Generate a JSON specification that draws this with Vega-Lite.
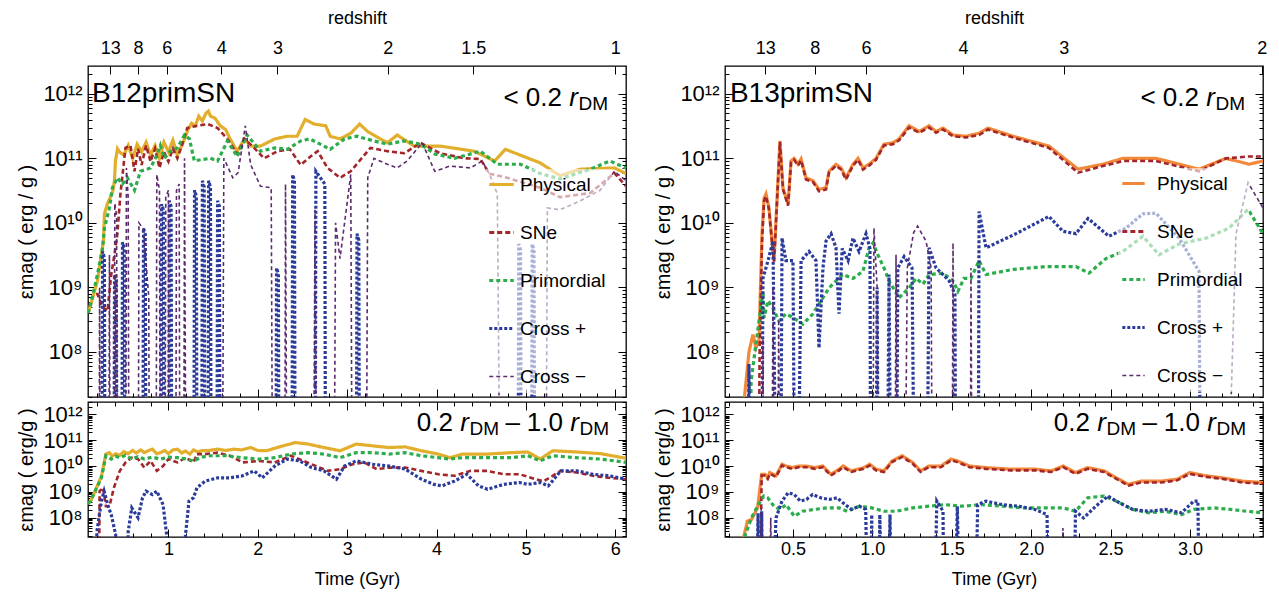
{
"$schema": "https://vega.github.io/schema/vega-lite/v6.json",
"background": "white",
"padding": {"left": 15, "top": 8, "right": 2, "bottom": 2},
"config": {
  "view": {"stroke": "black", "strokeWidth": 1.3},
  "font": "Liberation Sans",
  "axis": {"domain": false, "grid": false, "tickColor": "black", "tickWidth": 1, "labelColor": "black", "titleColor": "black", "labelFont": "Liberation Sans", "titleFont": "Liberation Sans", "titleFontWeight": "normal", "labelFontSize": 18, "titleFontSize": 18, "labelOverlap": false, "labelBound": false, "labelFlush": false},
  "text": {"font": "Liberation Sans", "color": "black"}
},
"datasets": {
"lt": [
{"s":"Physical","t":0.1,"v":4.0e8},{"s":"Physical","t":0.116,"v":4.6e8},{"s":"Physical","t":0.206,"v":1.26e9},{"s":"Physical","t":0.25,"v":3.2e9},{"s":"Physical","t":0.273,"v":5.2e9},{"s":"Physical","t":0.284,"v":1.38e10},{"s":"Physical","t":0.318,"v":2.0e10},{"s":"Physical","t":0.351,"v":2.5e10},{"s":"Physical","t":0.38,"v":3.2e10},{"s":"Physical","t":0.396,"v":4.5e10},{"s":"Physical","t":0.407,"v":9.1e10},{"s":"Physical","t":0.43,"v":1.41e11},{"s":"Physical","t":0.452,"v":1.26e11},{"s":"Physical","t":0.5,"v":1.12e11},{"s":"Physical","t":0.55,"v":1.58e11},{"s":"Physical","t":0.6,"v":1.0e11},{"s":"Physical","t":0.65,"v":1.66e11},{"s":"Physical","t":0.7,"v":1.26e11},{"s":"Physical","t":0.75,"v":1.78e11},{"s":"Physical","t":0.8,"v":1.12e11},{"s":"Physical","t":0.85,"v":1.58e11},{"s":"Physical","t":0.9,"v":1.0e11},{"s":"Physical","t":0.95,"v":1.78e11},{"s":"Physical","t":1.0,"v":1.26e11},{"s":"Physical","t":1.05,"v":1.91e11},{"s":"Physical","t":1.1,"v":1.12e11},{"s":"Physical","t":1.15,"v":1.58e11},{"s":"Physical","t":1.18,"v":2.0e11},{"s":"Physical","t":1.22,"v":2.8e11},{"s":"Physical","t":1.26,"v":3.5e11},{"s":"Physical","t":1.3,"v":3.2e11},{"s":"Physical","t":1.34,"v":4.5e11},{"s":"Physical","t":1.38,"v":3.8e11},{"s":"Physical","t":1.42,"v":5.0e11},{"s":"Physical","t":1.447,"v":5.4e11},{"s":"Physical","t":1.47,"v":4.5e11},{"s":"Physical","t":1.52,"v":4.2e11},{"s":"Physical","t":1.58,"v":3.2e11},{"s":"Physical","t":1.64,"v":2.8e11},{"s":"Physical","t":1.69,"v":2.0e11},{"s":"Physical","t":1.77,"v":1.29e11},{"s":"Physical","t":1.85,"v":2.0e11},{"s":"Physical","t":1.92,"v":1.55e11},{"s":"Physical","t":2.03,"v":1.55e11},{"s":"Physical","t":2.19,"v":2.0e11},{"s":"Physical","t":2.33,"v":2.2e11},{"s":"Physical","t":2.44,"v":2.2e11},{"s":"Physical","t":2.53,"v":4.0e11},{"s":"Physical","t":2.63,"v":3.4e11},{"s":"Physical","t":2.76,"v":3.2e11},{"s":"Physical","t":2.81,"v":2.2e11},{"s":"Physical","t":2.92,"v":2.0e11},{"s":"Physical","t":3.04,"v":2.45e11},{"s":"Physical","t":3.14,"v":3.4e11},{"s":"Physical","t":3.23,"v":2.6e11},{"s":"Physical","t":3.45,"v":1.74e11},{"s":"Physical","t":3.56,"v":2.3e11},{"s":"Physical","t":3.75,"v":1.55e11},{"s":"Physical","t":4.04,"v":1.55e11},{"s":"Physical","t":4.42,"v":1.29e11},{"s":"Physical","t":4.65,"v":9.1e10},{"s":"Physical","t":4.77,"v":1.38e11},{"s":"Physical","t":5.16,"v":8.5e10},{"s":"Physical","t":5.38,"v":5.4e10},{"s":"Physical","t":5.61,"v":6.8e10},{"s":"Physical","t":5.99,"v":7.1e10},{"s":"Physical","t":6.12,"v":5.8e10},
{"s":"SNe","t":0.19,"v":7.9e8},{"s":"SNe","t":0.206,"v":7.9e8},{"s":"SNe","t":0.26,"v":5.0e8},{"s":"SNe","t":0.318,"v":4.3e8},{"s":"SNe","t":0.36,"v":1.58e9},{"s":"SNe","t":0.396,"v":3.2e9},{"s":"SNe","t":0.429,"v":6.8e9},{"s":"SNe","t":0.463,"v":2.8e10},{"s":"SNe","t":0.519,"v":1.45e11},{"s":"SNe","t":0.575,"v":1.58e11},{"s":"SNe","t":0.62,"v":6.3e10},{"s":"SNe","t":0.66,"v":1.41e11},{"s":"SNe","t":0.7,"v":7.9e10},{"s":"SNe","t":0.75,"v":1.58e11},{"s":"SNe","t":0.8,"v":8.9e10},{"s":"SNe","t":0.85,"v":1.41e11},{"s":"SNe","t":0.9,"v":7.1e10},{"s":"SNe","t":0.95,"v":1.26e11},{"s":"SNe","t":1.0,"v":8.9e10},{"s":"SNe","t":1.05,"v":1.41e11},{"s":"SNe","t":1.1,"v":1.0e11},{"s":"SNe","t":1.15,"v":1.58e11},{"s":"SNe","t":1.21,"v":2.95e11},{"s":"SNe","t":1.32,"v":3.2e11},{"s":"SNe","t":1.44,"v":3.4e11},{"s":"SNe","t":1.55,"v":2.95e11},{"s":"SNe","t":1.66,"v":2.0e11},{"s":"SNe","t":1.77,"v":1.17e11},{"s":"SNe","t":1.85,"v":2.0e11},{"s":"SNe","t":1.96,"v":1.45e11},{"s":"SNe","t":2.07,"v":1.0e11},{"s":"SNe","t":2.22,"v":1.29e11},{"s":"SNe","t":2.36,"v":1.38e11},{"s":"SNe","t":2.48,"v":7.9e10},{"s":"SNe","t":2.59,"v":1.07e11},{"s":"SNe","t":2.67,"v":1.29e11},{"s":"SNe","t":2.78,"v":7.1e10},{"s":"SNe","t":2.92,"v":5.0e10},{"s":"SNe","t":3.04,"v":6.3e10},{"s":"SNe","t":3.26,"v":1.45e11},{"s":"SNe","t":3.45,"v":1.29e11},{"s":"SNe","t":3.64,"v":1.2e11},{"s":"SNe","t":3.82,"v":1.74e11},{"s":"SNe","t":4.04,"v":1.2e11},{"s":"SNe","t":4.31,"v":1.0e11},{"s":"SNe","t":4.49,"v":9.8e10},{"s":"SNe","t":4.59,"v":5.8e10},{"s":"SNe","t":4.79,"v":5.0e10},{"s":"SNe","t":5.16,"v":3.5e10},{"s":"SNe","t":5.38,"v":2.5e10},{"s":"SNe","t":5.72,"v":2.9e10},{"s":"SNe","t":5.99,"v":5.9e10},{"s":"SNe","t":6.12,"v":3.7e10},
{"s":"Primordial","t":0.1,"v":4.0e8},{"s":"Primordial","t":0.116,"v":4.6e8},{"s":"Primordial","t":0.206,"v":1.58e9},{"s":"Primordial","t":0.262,"v":4.0e9},{"s":"Primordial","t":0.284,"v":8.3e9},{"s":"Primordial","t":0.34,"v":1.7e10},{"s":"Primordial","t":0.373,"v":3.5e10},{"s":"Primordial","t":0.429,"v":5.0e10},{"s":"Primordial","t":0.485,"v":4.0e10},{"s":"Primordial","t":0.541,"v":5.0e10},{"s":"Primordial","t":0.62,"v":3.2e10},{"s":"Primordial","t":0.687,"v":6.3e10},{"s":"Primordial","t":0.8,"v":7.1e10},{"s":"Primordial","t":0.877,"v":1.17e11},{"s":"Primordial","t":0.91,"v":1.58e11},{"s":"Primordial","t":0.955,"v":1.0e11},{"s":"Primordial","t":1.02,"v":1.29e11},{"s":"Primordial","t":1.1,"v":1.45e11},{"s":"Primordial","t":1.18,"v":2.3e11},{"s":"Primordial","t":1.235,"v":2.0e11},{"s":"Primordial","t":1.29,"v":9.1e10},{"s":"Primordial","t":1.36,"v":9.5e10},{"s":"Primordial","t":1.47,"v":1.0e11},{"s":"Primordial","t":1.55,"v":9.1e10},{"s":"Primordial","t":1.66,"v":1.86e11},{"s":"Primordial","t":1.77,"v":1.07e11},{"s":"Primordial","t":1.88,"v":2.3e11},{"s":"Primordial","t":2.03,"v":1.29e11},{"s":"Primordial","t":2.19,"v":1.45e11},{"s":"Primordial","t":2.33,"v":1.38e11},{"s":"Primordial","t":2.48,"v":1.86e11},{"s":"Primordial","t":2.58,"v":2.0e11},{"s":"Primordial","t":2.67,"v":1.74e11},{"s":"Primordial","t":2.81,"v":1.38e11},{"s":"Primordial","t":2.97,"v":2.0e11},{"s":"Primordial","t":3.11,"v":2.2e11},{"s":"Primordial","t":3.3,"v":1.86e11},{"s":"Primordial","t":3.45,"v":1.66e11},{"s":"Primordial","t":3.64,"v":1.86e11},{"s":"Primordial","t":3.82,"v":1.66e11},{"s":"Primordial","t":3.98,"v":1.17e11},{"s":"Primordial","t":4.2,"v":1.0e11},{"s":"Primordial","t":4.49,"v":1.29e11},{"s":"Primordial","t":4.68,"v":8.1e10},{"s":"Primordial","t":4.94,"v":8.1e10},{"s":"Primordial","t":5.16,"v":5.8e10},{"s":"Primordial","t":5.38,"v":4.8e10},{"s":"Primordial","t":5.72,"v":6.8e10},{"s":"Primordial","t":5.94,"v":9.1e10},{"s":"Primordial","t":6.12,"v":7.1e10},
{"s":"Cross +","t":0.1,"v":1e4},{"s":"Cross +","t":0.253,"v":1e4},{"s":"Cross +","t":0.263,"v":3.6e9},{"s":"Cross +","t":0.283,"v":2.9e9},{"s":"Cross +","t":0.293,"v":1e4},{"s":"Cross +","t":0.387,"v":1e4},{"s":"Cross +","t":0.397,"v":1.58e9},{"s":"Cross +","t":0.417,"v":1.3e9},{"s":"Cross +","t":0.427,"v":1e4},{"s":"Cross +","t":0.476,"v":1e4},{"s":"Cross +","t":0.486,"v":5.0e9},{"s":"Cross +","t":0.506,"v":4.0e9},{"s":"Cross +","t":0.516,"v":1e4},{"s":"Cross +","t":0.711,"v":1e4},{"s":"Cross +","t":0.721,"v":8.3e9},{"s":"Cross +","t":0.741,"v":6.6e9},{"s":"Cross +","t":0.751,"v":1e4},{"s":"Cross +","t":0.913,"v":1e4},{"s":"Cross +","t":0.923,"v":1.95e10},{"s":"Cross +","t":0.943,"v":1.6e10},{"s":"Cross +","t":0.953,"v":1e4},{"s":"Cross +","t":1.0,"v":1e4},{"s":"Cross +","t":1.01,"v":2.2e10},{"s":"Cross +","t":1.03,"v":1.8e10},{"s":"Cross +","t":1.04,"v":1e4},{"s":"Cross +","t":1.282,"v":1e4},{"s":"Cross +","t":1.292,"v":3.2e10},{"s":"Cross +","t":1.312,"v":2.6e10},{"s":"Cross +","t":1.322,"v":1e4},{"s":"Cross +","t":1.37,"v":1e4},{"s":"Cross +","t":1.38,"v":4.5e10},{"s":"Cross +","t":1.40,"v":3.6e10},{"s":"Cross +","t":1.41,"v":1e4},{"s":"Cross +","t":1.44,"v":1e4},{"s":"Cross +","t":1.45,"v":4.5e10},{"s":"Cross +","t":1.47,"v":3.6e10},{"s":"Cross +","t":1.48,"v":1e4},{"s":"Cross +","t":1.54,"v":1e4},{"s":"Cross +","t":1.55,"v":2.2e10},{"s":"Cross +","t":1.57,"v":1.8e10},{"s":"Cross +","t":1.58,"v":1e4},{"s":"Cross +","t":2.20,"v":1e4},{"s":"Cross +","t":2.21,"v":2.0e9},{"s":"Cross +","t":2.23,"v":1.6e9},{"s":"Cross +","t":2.24,"v":1e4},{"s":"Cross +","t":2.38,"v":1e4},{"s":"Cross +","t":2.39,"v":5.6e10},{"s":"Cross +","t":2.41,"v":4.5e10},{"s":"Cross +","t":2.42,"v":1e4},{"s":"Cross +","t":2.64,"v":1e4},{"s":"Cross +","t":2.65,"v":6.3e10},{"s":"Cross +","t":2.70,"v":5.0e10},{"s":"Cross +","t":2.75,"v":4.0e10},{"s":"Cross +","t":2.76,"v":1e4},{"s":"Cross +","t":3.10,"v":1e4},{"s":"Cross +","t":3.11,"v":6.8e9},{"s":"Cross +","t":3.13,"v":5.4e9},{"s":"Cross +","t":3.14,"v":1e4},{"s":"Cross +","t":4.91,"v":1e4},{"s":"Cross +","t":4.92,"v":4.7e9},{"s":"Cross +","t":4.94,"v":3.8e9},{"s":"Cross +","t":4.95,"v":1e4},{"s":"Cross +","t":5.06,"v":1e4},{"s":"Cross +","t":5.07,"v":4.7e9},{"s":"Cross +","t":5.09,"v":3.8e9},{"s":"Cross +","t":5.10,"v":1e4},{"s":"Cross +","t":6.12,"v":1e4},
{"s":"Cross −","t":0.1,"v":1e4},{"s":"Cross −","t":0.22,"v":1e4},{"s":"Cross −","t":0.23,"v":1.0e9},{"s":"Cross −","t":0.24,"v":1e4},{"s":"Cross −","t":0.33,"v":1e4},{"s":"Cross −","t":0.34,"v":3.2e9},{"s":"Cross −","t":0.35,"v":1e4},{"s":"Cross −","t":0.39,"v":1e4},{"s":"Cross −","t":0.40,"v":2.0e10},{"s":"Cross −","t":0.42,"v":1.3e10},{"s":"Cross −","t":0.43,"v":1e4},{"s":"Cross −","t":0.52,"v":1e4},{"s":"Cross −","t":0.53,"v":7.1e10},{"s":"Cross −","t":0.55,"v":2.5e10},{"s":"Cross −","t":0.56,"v":1e4},{"s":"Cross −","t":0.66,"v":1e4},{"s":"Cross −","t":0.67,"v":1.0e10},{"s":"Cross −","t":0.72,"v":8.0e9},{"s":"Cross −","t":0.78,"v":7.0e8},{"s":"Cross −","t":0.79,"v":1e4},{"s":"Cross −","t":0.86,"v":1e4},{"s":"Cross −","t":0.87,"v":5.6e10},{"s":"Cross −","t":0.9,"v":3.2e10},{"s":"Cross −","t":0.91,"v":1e4},{"s":"Cross −","t":0.96,"v":1e4},{"s":"Cross −","t":0.97,"v":2.5e10},{"s":"Cross −","t":1.0,"v":3.2e10},{"s":"Cross −","t":1.01,"v":1e4},{"s":"Cross −","t":1.08,"v":1e4},{"s":"Cross −","t":1.09,"v":3.2e10},{"s":"Cross −","t":1.12,"v":4.0e10},{"s":"Cross −","t":1.13,"v":1e4},{"s":"Cross −","t":1.17,"v":1e4},{"s":"Cross −","t":1.18,"v":1.0e11},{"s":"Cross −","t":1.2,"v":1e4},{"s":"Cross −","t":1.6,"v":1e4},{"s":"Cross −","t":1.62,"v":1.0e11},{"s":"Cross −","t":1.72,"v":5.0e10},{"s":"Cross −","t":1.78,"v":6.0e10},{"s":"Cross −","t":1.86,"v":3.2e11},{"s":"Cross −","t":1.92,"v":8.0e10},{"s":"Cross −","t":2.03,"v":3.7e10},{"s":"Cross −","t":2.15,"v":3.5e10},{"s":"Cross −","t":2.17,"v":1e4},{"s":"Cross −","t":2.3,"v":1e4},{"s":"Cross −","t":2.31,"v":4.0e10},{"s":"Cross −","t":2.33,"v":1e4},{"s":"Cross −","t":2.62,"v":1e4},{"s":"Cross −","t":2.64,"v":1.6e10},{"s":"Cross −","t":2.66,"v":1e4},{"s":"Cross −","t":2.85,"v":1e4},{"s":"Cross −","t":2.87,"v":1.0e10},{"s":"Cross −","t":2.92,"v":2.8e9},{"s":"Cross −","t":3.04,"v":5.6e10},{"s":"Cross −","t":3.06,"v":1e4},{"s":"Cross −","t":3.21,"v":1e4},{"s":"Cross −","t":3.23,"v":5.0e10},{"s":"Cross −","t":3.3,"v":1.0e11},{"s":"Cross −","t":3.45,"v":8.1e10},{"s":"Cross −","t":3.56,"v":7.1e10},{"s":"Cross −","t":3.67,"v":9.1e10},{"s":"Cross −","t":3.84,"v":1.74e11},{"s":"Cross −","t":3.98,"v":6.3e10},{"s":"Cross −","t":4.15,"v":7.6e10},{"s":"Cross −","t":4.38,"v":7.1e10},{"s":"Cross −","t":4.51,"v":9.1e10},{"s":"Cross −","t":4.6,"v":5.4e10},{"s":"Cross −","t":4.68,"v":2.8e10},{"s":"Cross −","t":4.72,"v":1e4},{"s":"Cross −","t":5.22,"v":1e4},{"s":"Cross −","t":5.24,"v":1.7e10},{"s":"Cross −","t":5.38,"v":1.6e10},{"s":"Cross −","t":5.61,"v":2.2e10},{"s":"Cross −","t":5.83,"v":3.2e10},{"s":"Cross −","t":5.99,"v":6.3e10},{"s":"Cross −","t":6.12,"v":4.5e10}
],
"lb": [
{"s":"Physical","t":0.1,"v":3.5e8},{"s":"Physical","t":0.127,"v":4.4e8},{"s":"Physical","t":0.18,"v":1.07e9},{"s":"Physical","t":0.25,"v":4.0e9},{"s":"Physical","t":0.3,"v":2.9e10},{"s":"Physical","t":0.34,"v":3.3e10},{"s":"Physical","t":0.37,"v":2.4e10},{"s":"Physical","t":0.41,"v":3.0e10},{"s":"Physical","t":0.456,"v":2.6e10},{"s":"Physical","t":0.5,"v":3.6e10},{"s":"Physical","t":0.547,"v":3.0e10},{"s":"Physical","t":0.6,"v":4.0e10},{"s":"Physical","t":0.64,"v":3.2e10},{"s":"Physical","t":0.69,"v":4.2e10},{"s":"Physical","t":0.73,"v":3.3e10},{"s":"Physical","t":0.78,"v":4.0e10},{"s":"Physical","t":0.82,"v":4.5e10},{"s":"Physical","t":0.87,"v":3.0e10},{"s":"Physical","t":0.91,"v":3.3e10},{"s":"Physical","t":0.96,"v":4.0e10},{"s":"Physical","t":1.0,"v":3.0e10},{"s":"Physical","t":1.05,"v":4.2e10},{"s":"Physical","t":1.1,"v":4.5e10},{"s":"Physical","t":1.15,"v":3.2e10},{"s":"Physical","t":1.19,"v":3.8e10},{"s":"Physical","t":1.24,"v":2.9e10},{"s":"Physical","t":1.28,"v":4.2e10},{"s":"Physical","t":1.33,"v":3.5e10},{"s":"Physical","t":1.37,"v":3.9e10},{"s":"Physical","t":1.45,"v":4.0e10},{"s":"Physical","t":1.55,"v":4.5e10},{"s":"Physical","t":1.64,"v":4.0e10},{"s":"Physical","t":1.73,"v":4.5e10},{"s":"Physical","t":1.82,"v":4.2e10},{"s":"Physical","t":1.92,"v":5.2e10},{"s":"Physical","t":2.0,"v":4.0e10},{"s":"Physical","t":2.1,"v":3.9e10},{"s":"Physical","t":2.2,"v":5.0e10},{"s":"Physical","t":2.28,"v":6.0e10},{"s":"Physical","t":2.42,"v":8.1e10},{"s":"Physical","t":2.56,"v":7.1e10},{"s":"Physical","t":2.74,"v":5.2e10},{"s":"Physical","t":2.92,"v":3.9e10},{"s":"Physical","t":3.01,"v":5.2e10},{"s":"Physical","t":3.1,"v":7.1e10},{"s":"Physical","t":3.29,"v":6.0e10},{"s":"Physical","t":3.47,"v":5.2e10},{"s":"Physical","t":3.65,"v":5.5e10},{"s":"Physical","t":3.83,"v":3.9e10},{"s":"Physical","t":4.02,"v":2.9e10},{"s":"Physical","t":4.15,"v":2.1e10},{"s":"Physical","t":4.29,"v":2.9e10},{"s":"Physical","t":4.57,"v":2.9e10},{"s":"Physical","t":4.84,"v":3.3e10},{"s":"Physical","t":5.02,"v":3.5e10},{"s":"Physical","t":5.16,"v":1.86e10},{"s":"Physical","t":5.3,"v":3.9e10},{"s":"Physical","t":5.57,"v":3.5e10},{"s":"Physical","t":5.84,"v":3.0e10},{"s":"Physical","t":6.12,"v":2.0e10},
{"s":"SNe","t":0.22,"v":1e4},{"s":"SNe","t":0.23,"v":1.07e9},{"s":"SNe","t":0.27,"v":1.45e9},{"s":"SNe","t":0.3,"v":2.8e8},{"s":"SNe","t":0.34,"v":2.8e8},{"s":"SNe","t":0.39,"v":1.45e9},{"s":"SNe","t":0.456,"v":6.5e9},{"s":"SNe","t":0.52,"v":1.38e10},{"s":"SNe","t":0.59,"v":2.1e10},{"s":"SNe","t":0.66,"v":1.86e10},{"s":"SNe","t":0.73,"v":8.7e9},{"s":"SNe","t":0.8,"v":1.58e10},{"s":"SNe","t":0.87,"v":6.5e9},{"s":"SNe","t":0.94,"v":1.0e10},{"s":"SNe","t":1.0,"v":1.86e10},{"s":"SNe","t":1.1,"v":1.38e10},{"s":"SNe","t":1.19,"v":2.1e10},{"s":"SNe","t":1.28,"v":1.38e10},{"s":"SNe","t":1.32,"v":2.9e10},{"s":"SNe","t":1.41,"v":2.9e10},{"s":"SNe","t":1.55,"v":3.3e10},{"s":"SNe","t":1.69,"v":2.5e10},{"s":"SNe","t":1.83,"v":1.38e10},{"s":"SNe","t":2.01,"v":1.58e10},{"s":"SNe","t":2.19,"v":1.38e10},{"s":"SNe","t":2.37,"v":2.5e10},{"s":"SNe","t":2.51,"v":1.58e10},{"s":"SNe","t":2.65,"v":1.0e10},{"s":"SNe","t":2.78,"v":6.5e9},{"s":"SNe","t":2.92,"v":7.6e9},{"s":"SNe","t":3.06,"v":1.17e10},{"s":"SNe","t":3.19,"v":1.38e10},{"s":"SNe","t":3.33,"v":7.6e9},{"s":"SNe","t":3.47,"v":8.7e9},{"s":"SNe","t":3.65,"v":8.7e9},{"s":"SNe","t":3.83,"v":6.5e9},{"s":"SNe","t":4.02,"v":4.8e9},{"s":"SNe","t":4.2,"v":4.2e9},{"s":"SNe","t":4.38,"v":6.5e9},{"s":"SNe","t":4.57,"v":6.5e9},{"s":"SNe","t":4.75,"v":4.8e9},{"s":"SNe","t":4.93,"v":4.8e9},{"s":"SNe","t":5.11,"v":3.1e9},{"s":"SNe","t":5.2,"v":2.6e9},{"s":"SNe","t":5.39,"v":6.5e9},{"s":"SNe","t":5.57,"v":5.6e9},{"s":"SNe","t":5.75,"v":4.2e9},{"s":"SNe","t":5.93,"v":3.5e9},{"s":"SNe","t":6.12,"v":3.1e9},
{"s":"Primordial","t":0.1,"v":3.5e8},{"s":"Primordial","t":0.127,"v":4.4e8},{"s":"Primordial","t":0.25,"v":3.5e9},{"s":"Primordial","t":0.3,"v":2.5e10},{"s":"Primordial","t":0.36,"v":1.86e10},{"s":"Primordial","t":0.41,"v":2.4e10},{"s":"Primordial","t":0.456,"v":2.1e10},{"s":"Primordial","t":0.52,"v":2.6e10},{"s":"Primordial","t":0.59,"v":1.86e10},{"s":"Primordial","t":0.66,"v":2.3e10},{"s":"Primordial","t":0.73,"v":1.86e10},{"s":"Primordial","t":0.82,"v":2.2e10},{"s":"Primordial","t":0.91,"v":1.86e10},{"s":"Primordial","t":1.0,"v":2.2e10},{"s":"Primordial","t":1.1,"v":2.1e10},{"s":"Primordial","t":1.19,"v":1.9e10},{"s":"Primordial","t":1.28,"v":1.58e10},{"s":"Primordial","t":1.37,"v":2.2e10},{"s":"Primordial","t":1.46,"v":2.5e10},{"s":"Primordial","t":1.64,"v":2.5e10},{"s":"Primordial","t":1.83,"v":2.1e10},{"s":"Primordial","t":2.01,"v":1.86e10},{"s":"Primordial","t":2.19,"v":2.1e10},{"s":"Primordial","t":2.37,"v":2.9e10},{"s":"Primordial","t":2.56,"v":3.3e10},{"s":"Primordial","t":2.74,"v":2.9e10},{"s":"Primordial","t":2.92,"v":2.1e10},{"s":"Primordial","t":3.1,"v":3.3e10},{"s":"Primordial","t":3.29,"v":3.3e10},{"s":"Primordial","t":3.47,"v":2.9e10},{"s":"Primordial","t":3.65,"v":3.3e10},{"s":"Primordial","t":3.83,"v":2.5e10},{"s":"Primordial","t":4.02,"v":2.1e10},{"s":"Primordial","t":4.15,"v":1.86e10},{"s":"Primordial","t":4.29,"v":2.1e10},{"s":"Primordial","t":4.57,"v":2.1e10},{"s":"Primordial","t":4.84,"v":2.1e10},{"s":"Primordial","t":5.02,"v":2.5e10},{"s":"Primordial","t":5.16,"v":1.58e10},{"s":"Primordial","t":5.3,"v":2.5e10},{"s":"Primordial","t":5.57,"v":2.1e10},{"s":"Primordial","t":5.84,"v":1.86e10},{"s":"Primordial","t":6.12,"v":1.38e10},
{"s":"Cross +","t":0.18,"v":1e4},{"s":"Cross +","t":0.2,"v":3.0e7},{"s":"Cross +","t":0.25,"v":4.4e8},{"s":"Cross +","t":0.28,"v":1.07e9},{"s":"Cross +","t":0.32,"v":3.2e8},{"s":"Cross +","t":0.36,"v":1.3e8},{"s":"Cross +","t":0.41,"v":2.2e7},{"s":"Cross +","t":0.42,"v":1e4},{"s":"Cross +","t":0.53,"v":1e4},{"s":"Cross +","t":0.55,"v":3.0e7},{"s":"Cross +","t":0.59,"v":2.4e8},{"s":"Cross +","t":0.66,"v":1.0e8},{"s":"Cross +","t":0.71,"v":5.9e8},{"s":"Cross +","t":0.75,"v":1.07e9},{"s":"Cross +","t":0.82,"v":7.9e8},{"s":"Cross +","t":0.87,"v":1.07e9},{"s":"Cross +","t":0.94,"v":3.2e8},{"s":"Cross +","t":0.98,"v":2.2e7},{"s":"Cross +","t":0.99,"v":1e4},{"s":"Cross +","t":1.18,"v":1e4},{"s":"Cross +","t":1.19,"v":2.0e7},{"s":"Cross +","t":1.23,"v":4.4e8},{"s":"Cross +","t":1.28,"v":5.9e8},{"s":"Cross +","t":1.32,"v":1.45e9},{"s":"Cross +","t":1.41,"v":2.6e9},{"s":"Cross +","t":1.55,"v":3.5e9},{"s":"Cross +","t":1.69,"v":3.5e9},{"s":"Cross +","t":1.83,"v":4.2e9},{"s":"Cross +","t":1.96,"v":6.5e9},{"s":"Cross +","t":2.05,"v":3.5e9},{"s":"Cross +","t":2.19,"v":1.0e10},{"s":"Cross +","t":2.33,"v":1.86e10},{"s":"Cross +","t":2.47,"v":1.58e10},{"s":"Cross +","t":2.6,"v":8.7e9},{"s":"Cross +","t":2.74,"v":6.5e9},{"s":"Cross +","t":2.88,"v":3.1e9},{"s":"Cross +","t":2.97,"v":1.0e10},{"s":"Cross +","t":3.1,"v":1.58e10},{"s":"Cross +","t":3.29,"v":1.17e10},{"s":"Cross +","t":3.47,"v":1.0e10},{"s":"Cross +","t":3.65,"v":7.6e9},{"s":"Cross +","t":3.83,"v":3.1e9},{"s":"Cross +","t":3.97,"v":1.95e9},{"s":"Cross +","t":4.06,"v":1.7e9},{"s":"Cross +","t":4.2,"v":2.6e9},{"s":"Cross +","t":4.34,"v":4.8e9},{"s":"Cross +","t":4.47,"v":1.7e9},{"s":"Cross +","t":4.57,"v":1.26e9},{"s":"Cross +","t":4.75,"v":1.95e9},{"s":"Cross +","t":4.93,"v":2.3e9},{"s":"Cross +","t":5.02,"v":1.95e9},{"s":"Cross +","t":5.16,"v":2.3e9},{"s":"Cross +","t":5.25,"v":1.7e9},{"s":"Cross +","t":5.39,"v":6.5e9},{"s":"Cross +","t":5.57,"v":6.5e9},{"s":"Cross +","t":5.75,"v":4.8e9},{"s":"Cross +","t":5.93,"v":4.2e9},{"s":"Cross +","t":6.12,"v":3.1e9}
],
"rt": [
{"s":"Physical","t":0.17,"v":5.0e6},{"s":"Physical","t":0.223,"v":1.0e8},{"s":"Physical","t":0.248,"v":1.86e8},{"s":"Physical","t":0.267,"v":1.15e8},{"s":"Physical","t":0.286,"v":1.48e8},{"s":"Physical","t":0.305,"v":6.8e9},{"s":"Physical","t":0.318,"v":2.4e10},{"s":"Physical","t":0.33,"v":2.8e10},{"s":"Physical","t":0.349,"v":1.7e10},{"s":"Physical","t":0.368,"v":5.2e9},{"s":"Physical","t":0.381,"v":2.6e9},{"s":"Physical","t":0.393,"v":1.07e10},{"s":"Physical","t":0.418,"v":1.86e11},{"s":"Physical","t":0.437,"v":3.5e10},{"s":"Physical","t":0.469,"v":1.95e10},{"s":"Physical","t":0.488,"v":9.1e10},{"s":"Physical","t":0.507,"v":1.0e11},{"s":"Physical","t":0.532,"v":8.1e10},{"s":"Physical","t":0.551,"v":9.8e10},{"s":"Physical","t":0.582,"v":5.0e10},{"s":"Physical","t":0.626,"v":4.5e10},{"s":"Physical","t":0.664,"v":3.3e10},{"s":"Physical","t":0.708,"v":3.5e10},{"s":"Physical","t":0.727,"v":6.3e10},{"s":"Physical","t":0.771,"v":8.1e10},{"s":"Physical","t":0.803,"v":7.1e10},{"s":"Physical","t":0.834,"v":5.0e10},{"s":"Physical","t":0.878,"v":8.1e10},{"s":"Physical","t":0.91,"v":1.0e11},{"s":"Physical","t":0.941,"v":7.1e10},{"s":"Physical","t":0.979,"v":8.1e10},{"s":"Physical","t":1.023,"v":1.0e11},{"s":"Physical","t":1.073,"v":1.66e11},{"s":"Physical","t":1.13,"v":1.74e11},{"s":"Physical","t":1.168,"v":2.0e11},{"s":"Physical","t":1.231,"v":3.2e11},{"s":"Physical","t":1.294,"v":2.6e11},{"s":"Physical","t":1.357,"v":3.2e11},{"s":"Physical","t":1.401,"v":2.6e11},{"s":"Physical","t":1.445,"v":2.95e11},{"s":"Physical","t":1.508,"v":2.3e11},{"s":"Physical","t":1.59,"v":2.2e11},{"s":"Physical","t":1.672,"v":2.45e11},{"s":"Physical","t":1.728,"v":2.95e11},{"s":"Physical","t":1.886,"v":2.2e11},{"s":"Physical","t":2.112,"v":1.55e11},{"s":"Physical","t":2.295,"v":6.8e10},{"s":"Physical","t":2.452,"v":8.1e10},{"s":"Physical","t":2.578,"v":1.0e11},{"s":"Physical","t":2.786,"v":1.0e11},{"s":"Physical","t":3.057,"v":6.8e10},{"s":"Physical","t":3.227,"v":1.0e11},{"s":"Physical","t":3.372,"v":8.1e10},{"s":"Physical","t":3.46,"v":9.1e10},
{"s":"SNe","t":0.28,"v":1e4},{"s":"SNe","t":0.29,"v":1.0e8},{"s":"SNe","t":0.305,"v":5.0e9},{"s":"SNe","t":0.318,"v":2.2e10},{"s":"SNe","t":0.33,"v":2.6e10},{"s":"SNe","t":0.349,"v":1.6e10},{"s":"SNe","t":0.368,"v":5.0e9},{"s":"SNe","t":0.381,"v":2.5e9},{"s":"SNe","t":0.393,"v":1.0e10},{"s":"SNe","t":0.418,"v":1.8e11},{"s":"SNe","t":0.437,"v":3.3e10},{"s":"SNe","t":0.469,"v":1.85e10},{"s":"SNe","t":0.488,"v":8.7e10},{"s":"SNe","t":0.507,"v":9.5e10},{"s":"SNe","t":0.532,"v":7.7e10},{"s":"SNe","t":0.551,"v":9.3e10},{"s":"SNe","t":0.582,"v":4.7e10},{"s":"SNe","t":0.626,"v":4.3e10},{"s":"SNe","t":0.664,"v":3.1e10},{"s":"SNe","t":0.708,"v":3.3e10},{"s":"SNe","t":0.727,"v":6.0e10},{"s":"SNe","t":0.771,"v":7.7e10},{"s":"SNe","t":0.803,"v":6.7e10},{"s":"SNe","t":0.834,"v":4.7e10},{"s":"SNe","t":0.878,"v":7.7e10},{"s":"SNe","t":0.91,"v":9.5e10},{"s":"SNe","t":0.941,"v":6.7e10},{"s":"SNe","t":0.979,"v":7.7e10},{"s":"SNe","t":1.023,"v":9.5e10},{"s":"SNe","t":1.073,"v":1.58e11},{"s":"SNe","t":1.13,"v":1.66e11},{"s":"SNe","t":1.168,"v":1.9e11},{"s":"SNe","t":1.231,"v":3.0e11},{"s":"SNe","t":1.294,"v":2.5e11},{"s":"SNe","t":1.357,"v":3.0e11},{"s":"SNe","t":1.401,"v":2.5e11},{"s":"SNe","t":1.445,"v":2.8e11},{"s":"SNe","t":1.508,"v":2.2e11},{"s":"SNe","t":1.59,"v":2.1e11},{"s":"SNe","t":1.672,"v":2.3e11},{"s":"SNe","t":1.728,"v":2.8e11},{"s":"SNe","t":1.886,"v":2.1e11},{"s":"SNe","t":2.112,"v":1.45e11},{"s":"SNe","t":2.295,"v":6.0e10},{"s":"SNe","t":2.452,"v":7.6e10},{"s":"SNe","t":2.578,"v":9.1e10},{"s":"SNe","t":2.786,"v":9.1e10},{"s":"SNe","t":3.057,"v":6.3e10},{"s":"SNe","t":3.227,"v":1.0e11},{"s":"SNe","t":3.372,"v":1.07e11},{"s":"SNe","t":3.46,"v":1.07e11},
{"s":"Primordial","t":0.225,"v":1e4},{"s":"Primordial","t":0.236,"v":3.5e7},{"s":"Primordial","t":0.286,"v":3.0e8},{"s":"Primordial","t":0.311,"v":8.7e8},{"s":"Primordial","t":0.318,"v":3.4e8},{"s":"Primordial","t":0.343,"v":6.2e8},{"s":"Primordial","t":0.374,"v":4.8e8},{"s":"Primordial","t":0.412,"v":3.0e8},{"s":"Primordial","t":0.456,"v":3.9e8},{"s":"Primordial","t":0.5,"v":3.4e8},{"s":"Primordial","t":0.563,"v":2.7e8},{"s":"Primordial","t":0.626,"v":3.9e8},{"s":"Primordial","t":0.677,"v":6.2e8},{"s":"Primordial","t":0.727,"v":9.8e8},{"s":"Primordial","t":0.771,"v":1.26e9},{"s":"Primordial","t":0.815,"v":1.58e9},{"s":"Primordial","t":0.878,"v":1.38e9},{"s":"Primordial","t":0.941,"v":1.78e9},{"s":"Primordial","t":0.979,"v":4.1e9},{"s":"Primordial","t":1.004,"v":4.9e9},{"s":"Primordial","t":1.035,"v":3.2e9},{"s":"Primordial","t":1.073,"v":2.0e9},{"s":"Primordial","t":1.105,"v":1.26e9},{"s":"Primordial","t":1.168,"v":6.9e8},{"s":"Primordial","t":1.231,"v":9.8e8},{"s":"Primordial","t":1.275,"v":1.38e9},{"s":"Primordial","t":1.319,"v":1.12e9},{"s":"Primordial","t":1.357,"v":1.58e9},{"s":"Primordial","t":1.445,"v":1.66e9},{"s":"Primordial","t":1.508,"v":1.26e9},{"s":"Primordial","t":1.539,"v":8.7e8},{"s":"Primordial","t":1.577,"v":1.38e9},{"s":"Primordial","t":1.621,"v":1.38e9},{"s":"Primordial","t":1.672,"v":2.6e9},{"s":"Primordial","t":1.716,"v":1.58e9},{"s":"Primordial","t":1.886,"v":1.9e9},{"s":"Primordial","t":2.093,"v":2.1e9},{"s":"Primordial","t":2.282,"v":2.1e9},{"s":"Primordial","t":2.364,"v":1.66e9},{"s":"Primordial","t":2.471,"v":2.8e9},{"s":"Primordial","t":2.578,"v":3.6e9},{"s":"Primordial","t":2.704,"v":6.2e9},{"s":"Primordial","t":2.805,"v":3.2e9},{"s":"Primordial","t":2.931,"v":4.7e9},{"s":"Primordial","t":3.101,"v":5.8e9},{"s":"Primordial","t":3.246,"v":8.3e9},{"s":"Primordial","t":3.366,"v":1.62e10},{"s":"Primordial","t":3.46,"v":6.8e9},
{"s":"Cross +","t":0.072,"v":1e4},{"s":"Cross +","t":0.21,"v":1e4},{"s":"Cross +","t":0.223,"v":6.5e7},{"s":"Cross +","t":0.235,"v":1e4},{"s":"Cross +","t":0.30,"v":1e4},{"s":"Cross +","t":0.311,"v":1.38e9},{"s":"Cross +","t":0.343,"v":2.6e9},{"s":"Cross +","t":0.374,"v":5.2e9},{"s":"Cross +","t":0.40,"v":1e4},{"s":"Cross +","t":0.42,"v":1e4},{"s":"Cross +","t":0.431,"v":5.8e9},{"s":"Cross +","t":0.456,"v":2.6e9},{"s":"Cross +","t":0.5,"v":2.6e9},{"s":"Cross +","t":0.515,"v":1e4},{"s":"Cross +","t":0.525,"v":1e4},{"s":"Cross +","t":0.551,"v":2.6e9},{"s":"Cross +","t":0.601,"v":3.6e9},{"s":"Cross +","t":0.645,"v":2.6e9},{"s":"Cross +","t":0.664,"v":1.15e8},{"s":"Cross +","t":0.689,"v":2.0e9},{"s":"Cross +","t":0.708,"v":5.2e9},{"s":"Cross +","t":0.74,"v":6.8e9},{"s":"Cross +","t":0.771,"v":4.1e9},{"s":"Cross +","t":0.79,"v":3.9e8},{"s":"Cross +","t":0.81,"v":4.0e9},{"s":"Cross +","t":0.847,"v":2.6e9},{"s":"Cross +","t":0.878,"v":5.8e9},{"s":"Cross +","t":0.916,"v":3.6e9},{"s":"Cross +","t":0.96,"v":6.8e9},{"s":"Cross +","t":0.985,"v":4.0e9},{"s":"Cross +","t":0.991,"v":1e4},{"s":"Cross +","t":1.02,"v":1e4},{"s":"Cross +","t":1.03,"v":1.0e9},{"s":"Cross +","t":1.04,"v":1e4},{"s":"Cross +","t":1.09,"v":1e4},{"s":"Cross +","t":1.105,"v":1.58e9},{"s":"Cross +","t":1.12,"v":1e4},{"s":"Cross +","t":1.15,"v":1e4},{"s":"Cross +","t":1.16,"v":2.0e9},{"s":"Cross +","t":1.2,"v":3.0e9},{"s":"Cross +","t":1.25,"v":2.0e9},{"s":"Cross +","t":1.27,"v":1e4},{"s":"Cross +","t":1.34,"v":1e4},{"s":"Cross +","t":1.357,"v":4.1e9},{"s":"Cross +","t":1.401,"v":2.0e9},{"s":"Cross +","t":1.445,"v":1.58e9},{"s":"Cross +","t":1.483,"v":1.26e9},{"s":"Cross +","t":1.52,"v":7.9e8},{"s":"Cross +","t":1.527,"v":1e4},{"s":"Cross +","t":1.665,"v":1e4},{"s":"Cross +","t":1.672,"v":1.5e10},{"s":"Cross +","t":1.716,"v":4.1e9},{"s":"Cross +","t":1.905,"v":6.8e9},{"s":"Cross +","t":2.112,"v":1.26e10},{"s":"Cross +","t":2.2,"v":7.4e9},{"s":"Cross +","t":2.282,"v":6.8e9},{"s":"Cross +","t":2.358,"v":1.17e10},{"s":"Cross +","t":2.49,"v":6.2e9},{"s":"Cross +","t":2.597,"v":8.3e9},{"s":"Cross +","t":2.704,"v":1.38e10},{"s":"Cross +","t":2.786,"v":1.41e10},{"s":"Cross +","t":2.931,"v":5.8e9},{"s":"Cross +","t":3.057,"v":1.78e9},{"s":"Cross +","t":3.07,"v":1e4},{"s":"Cross +","t":3.46,"v":1e4},
{"s":"Cross −","t":0.072,"v":1e4},{"s":"Cross −","t":0.30,"v":1e4},{"s":"Cross −","t":0.311,"v":1.6e8},{"s":"Cross −","t":0.32,"v":1e4},{"s":"Cross −","t":0.365,"v":1e4},{"s":"Cross −","t":0.374,"v":1.0e9},{"s":"Cross −","t":0.385,"v":1e4},{"s":"Cross −","t":0.40,"v":1e4},{"s":"Cross −","t":0.41,"v":3.2e8},{"s":"Cross −","t":0.42,"v":1e4},{"s":"Cross −","t":1.0,"v":1e4},{"s":"Cross −","t":1.01,"v":8.3e9},{"s":"Cross −","t":1.03,"v":1.0e9},{"s":"Cross −","t":1.04,"v":1e4},{"s":"Cross −","t":1.14,"v":1e4},{"s":"Cross −","t":1.149,"v":3.2e9},{"s":"Cross −","t":1.16,"v":1e4},{"s":"Cross −","t":1.20,"v":1e4},{"s":"Cross −","t":1.22,"v":2.0e9},{"s":"Cross −","t":1.26,"v":7.1e9},{"s":"Cross −","t":1.285,"v":8.9e9},{"s":"Cross −","t":1.338,"v":5.2e9},{"s":"Cross −","t":1.37,"v":2.0e9},{"s":"Cross −","t":1.38,"v":1e4},{"s":"Cross −","t":1.5,"v":1e4},{"s":"Cross −","t":1.508,"v":4.9e9},{"s":"Cross −","t":1.515,"v":1e4},{"s":"Cross −","t":1.615,"v":1e4},{"s":"Cross −","t":1.621,"v":2.0e9},{"s":"Cross −","t":1.63,"v":1e4},{"s":"Cross −","t":3.22,"v":1e4},{"s":"Cross −","t":3.29,"v":6.8e9},{"s":"Cross −","t":3.366,"v":4.2e10},{"s":"Cross −","t":3.46,"v":1.7e10}
],
"rb": [
{"s":"Physical","t":0.18,"v":1.0e7},{"s":"Physical","t":0.213,"v":7.4e7},{"s":"Physical","t":0.239,"v":8.5e7},{"s":"Physical","t":0.277,"v":2.4e8},{"s":"Physical","t":0.303,"v":4.8e9},{"s":"Physical","t":0.324,"v":4.8e9},{"s":"Physical","t":0.341,"v":3.5e9},{"s":"Physical","t":0.354,"v":5.6e9},{"s":"Physical","t":0.393,"v":4.2e9},{"s":"Physical","t":0.431,"v":1.17e10},{"s":"Physical","t":0.457,"v":1.0e10},{"s":"Physical","t":0.496,"v":8.7e9},{"s":"Physical","t":0.534,"v":1.0e10},{"s":"Physical","t":0.585,"v":1.0e10},{"s":"Physical","t":0.637,"v":8.7e9},{"s":"Physical","t":0.688,"v":1.0e10},{"s":"Physical","t":0.739,"v":4.8e9},{"s":"Physical","t":0.791,"v":7.6e9},{"s":"Physical","t":0.816,"v":1.0e10},{"s":"Physical","t":0.868,"v":6.5e9},{"s":"Physical","t":0.945,"v":8.7e9},{"s":"Physical","t":0.983,"v":1.17e10},{"s":"Physical","t":1.022,"v":7.6e9},{"s":"Physical","t":1.073,"v":6.5e9},{"s":"Physical","t":1.124,"v":1.58e10},{"s":"Physical","t":1.188,"v":2.5e10},{"s":"Physical","t":1.253,"v":1.38e10},{"s":"Physical","t":1.304,"v":6.5e9},{"s":"Physical","t":1.355,"v":1.0e10},{"s":"Physical","t":1.432,"v":1.0e10},{"s":"Physical","t":1.496,"v":1.86e10},{"s":"Physical","t":1.535,"v":1.58e10},{"s":"Physical","t":1.612,"v":1.0e10},{"s":"Physical","t":1.715,"v":8.7e9},{"s":"Physical","t":1.868,"v":7.6e9},{"s":"Physical","t":2.023,"v":7.6e9},{"s":"Physical","t":2.125,"v":6.5e9},{"s":"Physical","t":2.202,"v":1.0e10},{"s":"Physical","t":2.279,"v":5.6e9},{"s":"Physical","t":2.356,"v":8.7e9},{"s":"Physical","t":2.459,"v":6.5e9},{"s":"Physical","t":2.536,"v":3.5e9},{"s":"Physical","t":2.613,"v":1.95e9},{"s":"Physical","t":2.69,"v":2.6e9},{"s":"Physical","t":2.818,"v":2.6e9},{"s":"Physical","t":2.92,"v":3.1e9},{"s":"Physical","t":2.998,"v":5.6e9},{"s":"Physical","t":3.1,"v":4.2e9},{"s":"Physical","t":3.203,"v":3.5e9},{"s":"Physical","t":3.332,"v":2.6e9},{"s":"Physical","t":3.46,"v":2.3e9},
{"s":"SNe","t":0.29,"v":1e4},{"s":"SNe","t":0.303,"v":4.3e9},{"s":"SNe","t":0.324,"v":4.3e9},{"s":"SNe","t":0.341,"v":3.2e9},{"s":"SNe","t":0.354,"v":5.0e9},{"s":"SNe","t":0.393,"v":3.8e9},{"s":"SNe","t":0.431,"v":1.05e10},{"s":"SNe","t":0.457,"v":9.0e9},{"s":"SNe","t":0.496,"v":7.8e9},{"s":"SNe","t":0.534,"v":9.0e9},{"s":"SNe","t":0.585,"v":9.0e9},{"s":"SNe","t":0.637,"v":7.8e9},{"s":"SNe","t":0.688,"v":9.0e9},{"s":"SNe","t":0.739,"v":4.3e9},{"s":"SNe","t":0.791,"v":6.8e9},{"s":"SNe","t":0.816,"v":9.0e9},{"s":"SNe","t":0.868,"v":5.9e9},{"s":"SNe","t":0.945,"v":7.8e9},{"s":"SNe","t":0.983,"v":1.05e10},{"s":"SNe","t":1.022,"v":6.8e9},{"s":"SNe","t":1.073,"v":5.9e9},{"s":"SNe","t":1.124,"v":1.42e10},{"s":"SNe","t":1.188,"v":2.25e10},{"s":"SNe","t":1.253,"v":1.24e10},{"s":"SNe","t":1.304,"v":5.9e9},{"s":"SNe","t":1.355,"v":9.0e9},{"s":"SNe","t":1.432,"v":9.0e9},{"s":"SNe","t":1.496,"v":1.67e10},{"s":"SNe","t":1.535,"v":1.42e10},{"s":"SNe","t":1.612,"v":9.0e9},{"s":"SNe","t":1.715,"v":7.8e9},{"s":"SNe","t":1.868,"v":6.8e9},{"s":"SNe","t":2.023,"v":6.8e9},{"s":"SNe","t":2.125,"v":5.9e9},{"s":"SNe","t":2.202,"v":9.0e9},{"s":"SNe","t":2.279,"v":5.0e9},{"s":"SNe","t":2.356,"v":7.8e9},{"s":"SNe","t":2.459,"v":5.9e9},{"s":"SNe","t":2.536,"v":3.2e9},{"s":"SNe","t":2.613,"v":1.75e9},{"s":"SNe","t":2.69,"v":2.3e9},{"s":"SNe","t":2.818,"v":2.3e9},{"s":"SNe","t":2.92,"v":2.8e9},{"s":"SNe","t":2.998,"v":5.0e9},{"s":"SNe","t":3.1,"v":3.8e9},{"s":"SNe","t":3.203,"v":3.2e9},{"s":"SNe","t":3.332,"v":2.3e9},{"s":"SNe","t":3.46,"v":2.1e9},
{"s":"Primordial","t":0.18,"v":1.0e7},{"s":"Primordial","t":0.239,"v":1.0e8},{"s":"Primordial","t":0.277,"v":2.8e8},{"s":"Primordial","t":0.316,"v":6.9e8},{"s":"Primordial","t":0.341,"v":5.9e8},{"s":"Primordial","t":0.38,"v":2.8e8},{"s":"Primordial","t":0.418,"v":2.1e8},{"s":"Primordial","t":0.457,"v":3.2e8},{"s":"Primordial","t":0.508,"v":1.15e8},{"s":"Primordial","t":0.56,"v":1.78e8},{"s":"Primordial","t":0.637,"v":2.1e8},{"s":"Primordial","t":0.714,"v":2.4e8},{"s":"Primordial","t":0.791,"v":2.4e8},{"s":"Primordial","t":0.842,"v":1.78e8},{"s":"Primordial","t":0.919,"v":2.8e8},{"s":"Primordial","t":0.996,"v":2.4e8},{"s":"Primordial","t":1.073,"v":1.78e8},{"s":"Primordial","t":1.15,"v":1.78e8},{"s":"Primordial","t":1.253,"v":2.4e8},{"s":"Primordial","t":1.355,"v":2.8e8},{"s":"Primordial","t":1.458,"v":3.2e8},{"s":"Primordial","t":1.561,"v":2.8e8},{"s":"Primordial","t":1.689,"v":3.2e8},{"s":"Primordial","t":1.817,"v":2.8e8},{"s":"Primordial","t":1.946,"v":2.4e8},{"s":"Primordial","t":2.074,"v":2.4e8},{"s":"Primordial","t":2.202,"v":2.4e8},{"s":"Primordial","t":2.279,"v":1.78e8},{"s":"Primordial","t":2.356,"v":5.9e8},{"s":"Primordial","t":2.459,"v":6.9e8},{"s":"Primordial","t":2.536,"v":4.4e8},{"s":"Primordial","t":2.639,"v":2.1e8},{"s":"Primordial","t":2.742,"v":1.55e8},{"s":"Primordial","t":2.844,"v":1.78e8},{"s":"Primordial","t":2.947,"v":1.32e8},{"s":"Primordial","t":3.024,"v":2.1e8},{"s":"Primordial","t":3.152,"v":2.4e8},{"s":"Primordial","t":3.255,"v":2.1e8},{"s":"Primordial","t":3.357,"v":1.78e8},{"s":"Primordial","t":3.46,"v":1.55e8},
{"s":"Cross +","t":0.27,"v":1e4},{"s":"Cross +","t":0.28,"v":1.5e8},{"s":"Cross +","t":0.29,"v":1e4},{"s":"Cross +","t":0.30,"v":1e4},{"s":"Cross +","t":0.303,"v":1.78e8},{"s":"Cross +","t":0.31,"v":1e4},{"s":"Cross +","t":0.37,"v":1e4},{"s":"Cross +","t":0.393,"v":9.8e7},{"s":"Cross +","t":0.431,"v":4.4e8},{"s":"Cross +","t":0.47,"v":9.3e8},{"s":"Cross +","t":0.508,"v":7.9e8},{"s":"Cross +","t":0.547,"v":4.4e8},{"s":"Cross +","t":0.585,"v":5.1e8},{"s":"Cross +","t":0.624,"v":7.9e8},{"s":"Cross +","t":0.675,"v":5.9e8},{"s":"Cross +","t":0.727,"v":5.1e8},{"s":"Cross +","t":0.778,"v":5.9e8},{"s":"Cross +","t":0.829,"v":3.2e8},{"s":"Cross +","t":0.868,"v":2.1e8},{"s":"Cross +","t":0.919,"v":2.8e8},{"s":"Cross +","t":0.958,"v":2.1e8},{"s":"Cross +","t":0.97,"v":1e4},{"s":"Cross +","t":0.99,"v":1e4},{"s":"Cross +","t":0.996,"v":1.32e8},{"s":"Cross +","t":1.0,"v":1e4},{"s":"Cross +","t":1.04,"v":1e4},{"s":"Cross +","t":1.047,"v":1.32e8},{"s":"Cross +","t":1.06,"v":1e4},{"s":"Cross +","t":1.10,"v":1e4},{"s":"Cross +","t":1.111,"v":1.32e8},{"s":"Cross +","t":1.12,"v":1e4},{"s":"Cross +","t":1.39,"v":1e4},{"s":"Cross +","t":1.406,"v":4.4e8},{"s":"Cross +","t":1.445,"v":1.78e8},{"s":"Cross +","t":1.45,"v":1e4},{"s":"Cross +","t":1.52,"v":1e4},{"s":"Cross +","t":1.535,"v":2.8e8},{"s":"Cross +","t":1.55,"v":1e4},{"s":"Cross +","t":1.65,"v":1e4},{"s":"Cross +","t":1.663,"v":3.2e8},{"s":"Cross +","t":1.715,"v":4.4e8},{"s":"Cross +","t":1.817,"v":3.2e8},{"s":"Cross +","t":1.92,"v":2.8e8},{"s":"Cross +","t":2.023,"v":2.1e8},{"s":"Cross +","t":2.1,"v":1.32e8},{"s":"Cross +","t":2.11,"v":1e4},{"s":"Cross +","t":2.27,"v":1e4},{"s":"Cross +","t":2.279,"v":1.78e8},{"s":"Cross +","t":2.33,"v":9.8e7},{"s":"Cross +","t":2.407,"v":2.8e8},{"s":"Cross +","t":2.484,"v":6.9e8},{"s":"Cross +","t":2.536,"v":4.4e8},{"s":"Cross +","t":2.639,"v":2.1e8},{"s":"Cross +","t":2.742,"v":1.78e8},{"s":"Cross +","t":2.844,"v":2.1e8},{"s":"Cross +","t":2.947,"v":1.55e8},{"s":"Cross +","t":3.024,"v":4.4e8},{"s":"Cross +","t":3.05,"v":4.4e8},{"s":"Cross +","t":3.06,"v":1e4},{"s":"Cross +","t":3.46,"v":1e4},
{"s":"Cross −","t":0.29,"v":1e4},{"s":"Cross −","t":0.30,"v":2.4e8},{"s":"Cross −","t":0.31,"v":1e4},{"s":"Cross −","t":0.35,"v":1e4},{"s":"Cross −","t":0.36,"v":1.0e8},{"s":"Cross −","t":0.37,"v":1e4},{"s":"Cross −","t":2.19,"v":1e4},{"s":"Cross −","t":2.2,"v":4.0e7},{"s":"Cross −","t":2.21,"v":1e4}
]
},
"hconcat": [
{
 "vconcat": [
  {
   "width": 538, "height": 331,
   "layer": [
    {"data": {"name": "lt"},
     "mark": {"type": "line", "clip": true, "strokeCap": "butt"},
     "encoding": {
      "x": {"field": "t", "type": "quantitative", "scale": {"domain": [0.1, 6.12], "nice": false, "zero": false},
            "axis": {"orient": "bottom", "values": [0.2,0.4,0.6,0.8,1,1.2,1.4,1.6,1.8,2,2.2,2.4,2.6,2.8,3,3.2,3.4,3.6,3.8,4,4.2,4.4,4.6,4.8,5,5.2,5.4,5.6,5.8,6], "labels": false, "title": null,
                     "tickSize": {"condition": {"test": "abs(datum.value-round(datum.value))<0.001", "value": -8}, "value": -4}}},
      "y": {"field": "v", "type": "quantitative", "scale": {"type": "log", "domain": [2e7, 2.7e12], "nice": false},
            "axis": {"orient": "left", "values": [2e7,3e7,4e7,5e7,6e7,7e7,8e7,9e7,1e8,2e8,3e8,4e8,5e8,6e8,7e8,8e8,9e8,1e9,2e9,3e9,4e9,5e9,6e9,7e9,8e9,9e9,1e10,2e10,3e10,4e10,5e10,6e10,7e10,8e10,9e10,1e11,2e11,3e11,4e11,5e11,6e11,7e11,8e11,9e11,1e12,2e12],
                     "labelExpr": "datum.value === 1e8 ? '10⁸' : datum.value === 1e9 ? '10⁹' : datum.value === 1e10 ? '10¹⁰' : datum.value === 1e11 ? '10¹¹' : datum.value === 1e12 ? '10¹²' : ''",
                     "title": "εmag ( erg / g )", "labelFontSize": 22, "titleFontSize": 20, "labelPadding": 14, "titlePadding": 6,
                     "tickSize": {"condition": {"test": "indexof([1e8,1e9,1e10,1e11,1e12], datum.value) >= 0", "value": -8}, "value": -4}}},
      "color": {"field": "s", "type": "nominal", "scale": {"domain": ["Physical","SNe","Primordial","Cross +","Cross −"], "range": ["#E2AE2C","#A3262B","#2CAD4B","#2A3B9B","#5B2B6C"]},
                "legend": {"orient": "none", "legendX": 398, "legendY": 103, "title": null, "symbolType": "stroke", "symbolSize": 600, "symbolStrokeWidth": 3, "labelFontSize": 19, "labelFont": "Liberation Sans", "labelColor": "black", "rowPadding": 28, "labelOffset": 9, "fillColor": "rgba(255,255,255,0.6)", "padding": 6, "encode": {"symbols": {"update": {"strokeWidth": {"signal": "datum.value === 'Cross −' ? 1.6 : 3"}}}}}},
      "strokeDash": {"field": "s", "type": "nominal", "scale": {"domain": ["Physical","SNe","Primordial","Cross +","Cross −"], "range": [[1,0],[5,3],[4,3],[3,2],[4,3]]},
                "legend": {"orient": "none", "legendX": 398, "legendY": 103, "title": null, "symbolType": "stroke", "symbolSize": 600, "symbolStrokeWidth": 3, "labelFontSize": 19, "labelFont": "Liberation Sans", "labelColor": "black", "rowPadding": 28, "labelOffset": 9, "fillColor": "rgba(255,255,255,0.6)", "padding": 6}},
      "strokeWidth": {"condition": [{"test": "datum.s === 'Cross −'", "value": 1.6}, {"test": "datum.s === 'SNe'", "value": 2.6}], "value": 3.2}
     }},
    {"data": {"values": [{}]},
     "mark": {"type": "text", "align": "left", "baseline": "middle", "fontSize": 28},
     "encoding": {
      "x": {"datum": 0.145, "type": "quantitative",
            "axis": {"orient": "top", "values": [0.35,0.66,0.98,1.59,2.22,3.455,4.41,6.0], "labelExpr": "datum.value < 0.5 ? '13' : datum.value < 0.8 ? '8' : datum.value < 1.2 ? '6' : datum.value < 1.9 ? '4' : datum.value < 2.8 ? '3' : datum.value < 4 ? '2' : datum.value < 5 ? '1.5' : '1'",
                     "title": "redshift", "tickSize": -8, "labelPadding": 17, "titlePadding": 12}},
      "y": {"datum": 1.0e12, "type": "quantitative",
            "axis": {"orient": "right", "values": [2e7,3e7,4e7,5e7,6e7,7e7,8e7,9e7,1e8,2e8,3e8,4e8,5e8,6e8,7e8,8e8,9e8,1e9,2e9,3e9,4e9,5e9,6e9,7e9,8e9,9e9,1e10,2e10,3e10,4e10,5e10,6e10,7e10,8e10,9e10,1e11,2e11,3e11,4e11,5e11,6e11,7e11,8e11,9e11,1e12,2e12], "labels": false, "title": null,
                     "tickSize": {"condition": {"test": "indexof([1e8,1e9,1e10,1e11,1e12], datum.value) >= 0", "value": -8}, "value": -4}}},
      "text": {"value": "B12primSN"}}},
    {"data": {"values": [{}]}, "mark": {"type": "text", "align": "right", "baseline": "middle", "fontSize": 26, "dx": -64},
     "encoding": {"x": {"datum": 6.12, "type": "quantitative", "axis": null}, "y": {"datum": 8.5e11, "type": "quantitative", "axis": null}, "text": {"value": "< 0.2"}}},
    {"data": {"values": [{}]}, "mark": {"type": "text", "align": "right", "baseline": "middle", "fontSize": 26, "fontStyle": "italic", "dx": -48},
     "encoding": {"x": {"datum": 6.12, "type": "quantitative", "axis": null}, "y": {"datum": 8.5e11, "type": "quantitative", "axis": null}, "text": {"value": "r"}}},
    {"data": {"values": [{}]}, "mark": {"type": "text", "align": "right", "baseline": "middle", "fontSize": 19, "dx": -18, "dy": 6},
     "encoding": {"x": {"datum": 6.12, "type": "quantitative", "axis": null}, "y": {"datum": 8.5e11, "type": "quantitative", "axis": null}, "text": {"value": "DM"}}}
   ]
  },
  {
   "width": 538, "height": 135,
   "layer": [
    {"data": {"name": "lb"},
     "mark": {"type": "line", "clip": true, "strokeCap": "butt"},
     "encoding": {
      "x": {"field": "t", "type": "quantitative", "scale": {"domain": [0.1, 6.12], "nice": false, "zero": false},
            "axis": {"orient": "bottom", "values": [0.2,0.4,0.6,0.8,1,1.2,1.4,1.6,1.8,2,2.2,2.4,2.6,2.8,3,3.2,3.4,3.6,3.8,4,4.2,4.4,4.6,4.8,5,5.2,5.4,5.6,5.8,6],
                     "labelExpr": "abs(datum.value-round(datum.value))<0.001 ? format(datum.value,'d') : ''", "title": "Time (Gyr)", "labelPadding": 11, "titlePadding": 8,
                     "tickSize": {"condition": {"test": "abs(datum.value-round(datum.value))<0.001", "value": -8}, "value": -4}}},
      "y": {"field": "v", "type": "quantitative", "scale": {"type": "log", "domain": [1.8e7, 3e12], "nice": false},
            "axis": {"orient": "left", "values": [2e7,3e7,4e7,5e7,6e7,7e7,8e7,9e7,1e8,2e8,3e8,4e8,5e8,6e8,7e8,8e8,9e8,1e9,2e9,3e9,4e9,5e9,6e9,7e9,8e9,9e9,1e10,2e10,3e10,4e10,5e10,6e10,7e10,8e10,9e10,1e11,2e11,3e11,4e11,5e11,6e11,7e11,8e11,9e11,1e12,2e12,3e12],
                     "labelExpr": "datum.value === 1e8 ? '10⁸' : datum.value === 1e9 ? '10⁹' : datum.value === 1e10 ? '10¹⁰' : datum.value === 1e11 ? '10¹¹' : datum.value === 1e12 ? '10¹²' : ''",
                     "title": "εmag ( erg/g )", "labelFontSize": 22, "titleFontSize": 20, "labelPadding": 14, "titlePadding": 6,
                     "tickSize": {"condition": {"test": "indexof([1e8,1e9,1e10,1e11,1e12], datum.value) >= 0", "value": -8}, "value": -4}}},
      "color": {"field": "s", "type": "nominal", "scale": {"domain": ["Physical","SNe","Primordial","Cross +","Cross −"], "range": ["#E2AE2C","#A3262B","#2CAD4B","#2A3B9B","#5B2B6C"]}, "legend": null},
      "strokeDash": {"field": "s", "type": "nominal", "scale": {"domain": ["Physical","SNe","Primordial","Cross +","Cross −"], "range": [[1,0],[5,3],[4,3],[3,2],[4,3]]}, "legend": null},
      "strokeWidth": {"condition": [{"test": "datum.s === 'Cross −'", "value": 1.6}, {"test": "datum.s === 'SNe'", "value": 2.6}], "value": 3.2}
     }},
    {"data": {"values": [{}]}, "mark": {"type": "text", "align": "right", "baseline": "middle", "fontSize": 26, "dx": -173},
     "encoding": {
      "x": {"datum": 6.12, "type": "quantitative",
            "axis": {"orient": "top", "values": [0.2,0.4,0.6,0.8,1,1.2,1.4,1.6,1.8,2,2.2,2.4,2.6,2.8,3,3.2,3.4,3.6,3.8,4,4.2,4.4,4.6,4.8,5,5.2,5.4,5.6,5.8,6], "labels": false, "title": null,
                     "tickSize": {"condition": {"test": "abs(datum.value-round(datum.value))<0.001", "value": -8}, "value": -4}}},
      "y": {"datum": 4.6e11, "type": "quantitative",
            "axis": {"orient": "right", "values": [2e7,3e7,4e7,5e7,6e7,7e7,8e7,9e7,1e8,2e8,3e8,4e8,5e8,6e8,7e8,8e8,9e8,1e9,2e9,3e9,4e9,5e9,6e9,7e9,8e9,9e9,1e10,2e10,3e10,4e10,5e10,6e10,7e10,8e10,9e10,1e11,2e11,3e11,4e11,5e11,6e11,7e11,8e11,9e11,1e12,2e12,3e12], "labels": false, "title": null,
                     "tickSize": {"condition": {"test": "indexof([1e8,1e9,1e10,1e11,1e12], datum.value) >= 0", "value": -8}, "value": -4}}},
      "text": {"value": "0.2"}}},
    {"data": {"values": [{}]}, "mark": {"type": "text", "align": "right", "baseline": "middle", "fontSize": 26, "fontStyle": "italic", "dx": -157},
     "encoding": {"x": {"datum": 6.12, "type": "quantitative", "axis": null}, "y": {"datum": 4.6e11, "type": "quantitative", "axis": null}, "text": {"value": "r"}}},
    {"data": {"values": [{}]}, "mark": {"type": "text", "align": "right", "baseline": "middle", "fontSize": 19, "dx": -127, "dy": 6},
     "encoding": {"x": {"datum": 6.12, "type": "quantitative", "axis": null}, "y": {"datum": 4.6e11, "type": "quantitative", "axis": null}, "text": {"value": "DM"}}},
    {"data": {"values": [{}]}, "mark": {"type": "text", "align": "right", "baseline": "middle", "fontSize": 26, "dx": -106},
     "encoding": {"x": {"datum": 6.12, "type": "quantitative", "axis": null}, "y": {"datum": 4.6e11, "type": "quantitative", "axis": null}, "text": {"value": "–"}}},
    {"data": {"values": [{}]}, "mark": {"type": "text", "align": "right", "baseline": "middle", "fontSize": 26, "dx": -63},
     "encoding": {"x": {"datum": 6.12, "type": "quantitative", "axis": null}, "y": {"datum": 4.6e11, "type": "quantitative", "axis": null}, "text": {"value": "1.0"}}},
    {"data": {"values": [{}]}, "mark": {"type": "text", "align": "right", "baseline": "middle", "fontSize": 26, "fontStyle": "italic", "dx": -47},
     "encoding": {"x": {"datum": 6.12, "type": "quantitative", "axis": null}, "y": {"datum": 4.6e11, "type": "quantitative", "axis": null}, "text": {"value": "r"}}},
    {"data": {"values": [{}]}, "mark": {"type": "text", "align": "right", "baseline": "middle", "fontSize": 19, "dx": -17, "dy": 6},
     "encoding": {"x": {"datum": 6.12, "type": "quantitative", "axis": null}, "y": {"datum": 4.6e11, "type": "quantitative", "axis": null}, "text": {"value": "DM"}}}
   ]
  }
 ],
 "spacing": 5,
 "bounds": "flush",
 "resolve": {"scale": {"x": "independent", "y": "independent"}, "legend": {"color": "independent", "strokeDash": "independent"}}
},
{
 "vconcat": [
  {
   "width": 538, "height": 331,
   "layer": [
    {"data": {"name": "rt"},
     "mark": {"type": "line", "clip": true, "strokeCap": "butt"},
     "encoding": {
      "x": {"field": "t", "type": "quantitative", "scale": {"domain": [0.072, 3.46], "nice": false, "zero": false},
            "axis": {"orient": "bottom", "values": [0.1,0.2,0.3,0.4,0.5,0.6,0.7,0.8,0.9,1,1.1,1.2,1.3,1.4,1.5,1.6,1.7,1.8,1.9,2,2.1,2.2,2.3,2.4,2.5,2.6,2.7,2.8,2.9,3,3.1,3.2,3.3,3.4], "labels": false, "title": null,
                     "tickSize": {"condition": {"test": "abs(datum.value*2-round(datum.value*2))<0.001", "value": -8}, "value": -4}}},
      "y": {"field": "v", "type": "quantitative", "scale": {"type": "log", "domain": [2e7, 2.7e12], "nice": false},
            "axis": {"orient": "left", "values": [2e7,3e7,4e7,5e7,6e7,7e7,8e7,9e7,1e8,2e8,3e8,4e8,5e8,6e8,7e8,8e8,9e8,1e9,2e9,3e9,4e9,5e9,6e9,7e9,8e9,9e9,1e10,2e10,3e10,4e10,5e10,6e10,7e10,8e10,9e10,1e11,2e11,3e11,4e11,5e11,6e11,7e11,8e11,9e11,1e12,2e12],
                     "labelExpr": "datum.value === 1e8 ? '10⁸' : datum.value === 1e9 ? '10⁹' : datum.value === 1e10 ? '10¹⁰' : datum.value === 1e11 ? '10¹¹' : datum.value === 1e12 ? '10¹²' : ''",
                     "title": "εmag ( erg / g )", "labelFontSize": 22, "titleFontSize": 20, "labelPadding": 14, "titlePadding": 6,
                     "tickSize": {"condition": {"test": "indexof([1e8,1e9,1e10,1e11,1e12], datum.value) >= 0", "value": -8}, "value": -4}}},
      "color": {"field": "s", "type": "nominal", "scale": {"domain": ["Physical","SNe","Primordial","Cross +","Cross −"], "range": ["#F2883A","#A3262B","#2CAD4B","#2A3B9B","#5B2B6C"]},
                "legend": {"orient": "none", "legendX": 393, "legendY": 102, "title": null, "symbolType": "stroke", "symbolSize": 500, "symbolStrokeWidth": 3, "labelFontSize": 19, "labelFont": "Liberation Sans", "labelColor": "black", "rowPadding": 28, "labelOffset": 14, "fillColor": "rgba(255,255,255,0.6)", "padding": 6, "encode": {"symbols": {"update": {"strokeWidth": {"signal": "datum.value === 'Cross −' ? 1.6 : 3"}}}}}},
      "strokeDash": {"field": "s", "type": "nominal", "scale": {"domain": ["Physical","SNe","Primordial","Cross +","Cross −"], "range": [[1,0],[5,3],[4,3],[3,2],[4,3]]},
                "legend": {"orient": "none", "legendX": 393, "legendY": 102, "title": null, "symbolType": "stroke", "symbolSize": 500, "symbolStrokeWidth": 3, "labelFontSize": 19, "labelFont": "Liberation Sans", "labelColor": "black", "rowPadding": 28, "labelOffset": 14, "fillColor": "rgba(255,255,255,0.6)", "padding": 6}},
      "strokeWidth": {"condition": [{"test": "datum.s === 'Cross −'", "value": 1.6}, {"test": "datum.s === 'SNe'", "value": 2.6}], "value": 3.2}
     }},
    {"data": {"values": [{}]},
     "mark": {"type": "text", "align": "left", "baseline": "middle", "fontSize": 28},
     "encoding": {
      "x": {"datum": 0.103, "type": "quantitative",
            "axis": {"orient": "top", "values": [0.325,0.637,0.96,1.571,2.205,3.452], "labelExpr": "datum.value < 0.5 ? '13' : datum.value < 0.8 ? '8' : datum.value < 1.2 ? '6' : datum.value < 1.9 ? '4' : datum.value < 2.8 ? '3' : '2'",
                     "title": "redshift", "tickSize": -8, "labelPadding": 17, "titlePadding": 12}},
      "y": {"datum": 1.0e12, "type": "quantitative",
            "axis": {"orient": "right", "values": [2e7,3e7,4e7,5e7,6e7,7e7,8e7,9e7,1e8,2e8,3e8,4e8,5e8,6e8,7e8,8e8,9e8,1e9,2e9,3e9,4e9,5e9,6e9,7e9,8e9,9e9,1e10,2e10,3e10,4e10,5e10,6e10,7e10,8e10,9e10,1e11,2e11,3e11,4e11,5e11,6e11,7e11,8e11,9e11,1e12,2e12], "labels": false, "title": null,
                     "tickSize": {"condition": {"test": "indexof([1e8,1e9,1e10,1e11,1e12], datum.value) >= 0", "value": -8}, "value": -4}}},
      "text": {"value": "B13primSN"}}},
    {"data": {"values": [{}]}, "mark": {"type": "text", "align": "right", "baseline": "middle", "fontSize": 26, "dx": -64},
     "encoding": {"x": {"datum": 3.46, "type": "quantitative", "axis": null}, "y": {"datum": 8.5e11, "type": "quantitative", "axis": null}, "text": {"value": "< 0.2"}}},
    {"data": {"values": [{}]}, "mark": {"type": "text", "align": "right", "baseline": "middle", "fontSize": 26, "fontStyle": "italic", "dx": -48},
     "encoding": {"x": {"datum": 3.46, "type": "quantitative", "axis": null}, "y": {"datum": 8.5e11, "type": "quantitative", "axis": null}, "text": {"value": "r"}}},
    {"data": {"values": [{}]}, "mark": {"type": "text", "align": "right", "baseline": "middle", "fontSize": 19, "dx": -18, "dy": 6},
     "encoding": {"x": {"datum": 3.46, "type": "quantitative", "axis": null}, "y": {"datum": 8.5e11, "type": "quantitative", "axis": null}, "text": {"value": "DM"}}}
   ]
  },
  {
   "width": 538, "height": 135,
   "layer": [
    {"data": {"name": "rb"},
     "mark": {"type": "line", "clip": true, "strokeCap": "butt"},
     "encoding": {
      "x": {"field": "t", "type": "quantitative", "scale": {"domain": [0.072, 3.46], "nice": false, "zero": false},
            "axis": {"orient": "bottom", "values": [0.1,0.2,0.3,0.4,0.5,0.6,0.7,0.8,0.9,1,1.1,1.2,1.3,1.4,1.5,1.6,1.7,1.8,1.9,2,2.1,2.2,2.3,2.4,2.5,2.6,2.7,2.8,2.9,3,3.1,3.2,3.3,3.4],
                     "labelExpr": "abs(datum.value*2-round(datum.value*2))<0.001 ? format(datum.value,'.1f') : ''", "title": "Time (Gyr)", "labelPadding": 11, "titlePadding": 8,
                     "tickSize": {"condition": {"test": "abs(datum.value*2-round(datum.value*2))<0.001", "value": -8}, "value": -4}}},
      "y": {"field": "v", "type": "quantitative", "scale": {"type": "log", "domain": [1.8e7, 3e12], "nice": false},
            "axis": {"orient": "left", "values": [2e7,3e7,4e7,5e7,6e7,7e7,8e7,9e7,1e8,2e8,3e8,4e8,5e8,6e8,7e8,8e8,9e8,1e9,2e9,3e9,4e9,5e9,6e9,7e9,8e9,9e9,1e10,2e10,3e10,4e10,5e10,6e10,7e10,8e10,9e10,1e11,2e11,3e11,4e11,5e11,6e11,7e11,8e11,9e11,1e12,2e12,3e12],
                     "labelExpr": "datum.value === 1e8 ? '10⁸' : datum.value === 1e9 ? '10⁹' : datum.value === 1e10 ? '10¹⁰' : datum.value === 1e11 ? '10¹¹' : datum.value === 1e12 ? '10¹²' : ''",
                     "title": "εmag ( erg/g )", "labelFontSize": 22, "titleFontSize": 20, "labelPadding": 14, "titlePadding": 6,
                     "tickSize": {"condition": {"test": "indexof([1e8,1e9,1e10,1e11,1e12], datum.value) >= 0", "value": -8}, "value": -4}}},
      "color": {"field": "s", "type": "nominal", "scale": {"domain": ["Physical","SNe","Primordial","Cross +","Cross −"], "range": ["#F2883A","#A3262B","#2CAD4B","#2A3B9B","#5B2B6C"]}, "legend": null},
      "strokeDash": {"field": "s", "type": "nominal", "scale": {"domain": ["Physical","SNe","Primordial","Cross +","Cross −"], "range": [[1,0],[5,3],[4,3],[3,2],[4,3]]}, "legend": null},
      "strokeWidth": {"condition": [{"test": "datum.s === 'Cross −'", "value": 1.6}, {"test": "datum.s === 'SNe'", "value": 2.6}], "value": 3.2}
     }},
    {"data": {"values": [{}]}, "mark": {"type": "text", "align": "right", "baseline": "middle", "fontSize": 26, "dx": -173},
     "encoding": {
      "x": {"datum": 3.46, "type": "quantitative",
            "axis": {"orient": "top", "values": [0.1,0.2,0.3,0.4,0.5,0.6,0.7,0.8,0.9,1,1.1,1.2,1.3,1.4,1.5,1.6,1.7,1.8,1.9,2,2.1,2.2,2.3,2.4,2.5,2.6,2.7,2.8,2.9,3,3.1,3.2,3.3,3.4], "labels": false, "title": null,
                     "tickSize": {"condition": {"test": "abs(datum.value*2-round(datum.value*2))<0.001", "value": -8}, "value": -4}}},
      "y": {"datum": 4.6e11, "type": "quantitative",
            "axis": {"orient": "right", "values": [2e7,3e7,4e7,5e7,6e7,7e7,8e7,9e7,1e8,2e8,3e8,4e8,5e8,6e8,7e8,8e8,9e8,1e9,2e9,3e9,4e9,5e9,6e9,7e9,8e9,9e9,1e10,2e10,3e10,4e10,5e10,6e10,7e10,8e10,9e10,1e11,2e11,3e11,4e11,5e11,6e11,7e11,8e11,9e11,1e12,2e12,3e12], "labels": false, "title": null,
                     "tickSize": {"condition": {"test": "indexof([1e8,1e9,1e10,1e11,1e12], datum.value) >= 0", "value": -8}, "value": -4}}},
      "text": {"value": "0.2"}}},
    {"data": {"values": [{}]}, "mark": {"type": "text", "align": "right", "baseline": "middle", "fontSize": 26, "fontStyle": "italic", "dx": -157},
     "encoding": {"x": {"datum": 3.46, "type": "quantitative", "axis": null}, "y": {"datum": 4.6e11, "type": "quantitative", "axis": null}, "text": {"value": "r"}}},
    {"data": {"values": [{}]}, "mark": {"type": "text", "align": "right", "baseline": "middle", "fontSize": 19, "dx": -127, "dy": 6},
     "encoding": {"x": {"datum": 3.46, "type": "quantitative", "axis": null}, "y": {"datum": 4.6e11, "type": "quantitative", "axis": null}, "text": {"value": "DM"}}},
    {"data": {"values": [{}]}, "mark": {"type": "text", "align": "right", "baseline": "middle", "fontSize": 26, "dx": -106},
     "encoding": {"x": {"datum": 3.46, "type": "quantitative", "axis": null}, "y": {"datum": 4.6e11, "type": "quantitative", "axis": null}, "text": {"value": "–"}}},
    {"data": {"values": [{}]}, "mark": {"type": "text", "align": "right", "baseline": "middle", "fontSize": 26, "dx": -63},
     "encoding": {"x": {"datum": 3.46, "type": "quantitative", "axis": null}, "y": {"datum": 4.6e11, "type": "quantitative", "axis": null}, "text": {"value": "1.0"}}},
    {"data": {"values": [{}]}, "mark": {"type": "text", "align": "right", "baseline": "middle", "fontSize": 26, "fontStyle": "italic", "dx": -47},
     "encoding": {"x": {"datum": 3.46, "type": "quantitative", "axis": null}, "y": {"datum": 4.6e11, "type": "quantitative", "axis": null}, "text": {"value": "r"}}},
    {"data": {"values": [{}]}, "mark": {"type": "text", "align": "right", "baseline": "middle", "fontSize": 19, "dx": -17, "dy": 6},
     "encoding": {"x": {"datum": 3.46, "type": "quantitative", "axis": null}, "y": {"datum": 4.6e11, "type": "quantitative", "axis": null}, "text": {"value": "DM"}}}
   ]
  }
 ],
 "spacing": 5,
 "bounds": "flush",
 "resolve": {"scale": {"x": "independent", "y": "independent"}, "legend": {"color": "independent", "strokeDash": "independent"}}
}
],
"spacing": 24,
"resolve": {"scale": {"x": "independent", "y": "independent", "color": "independent", "strokeDash": "independent"}}
}
